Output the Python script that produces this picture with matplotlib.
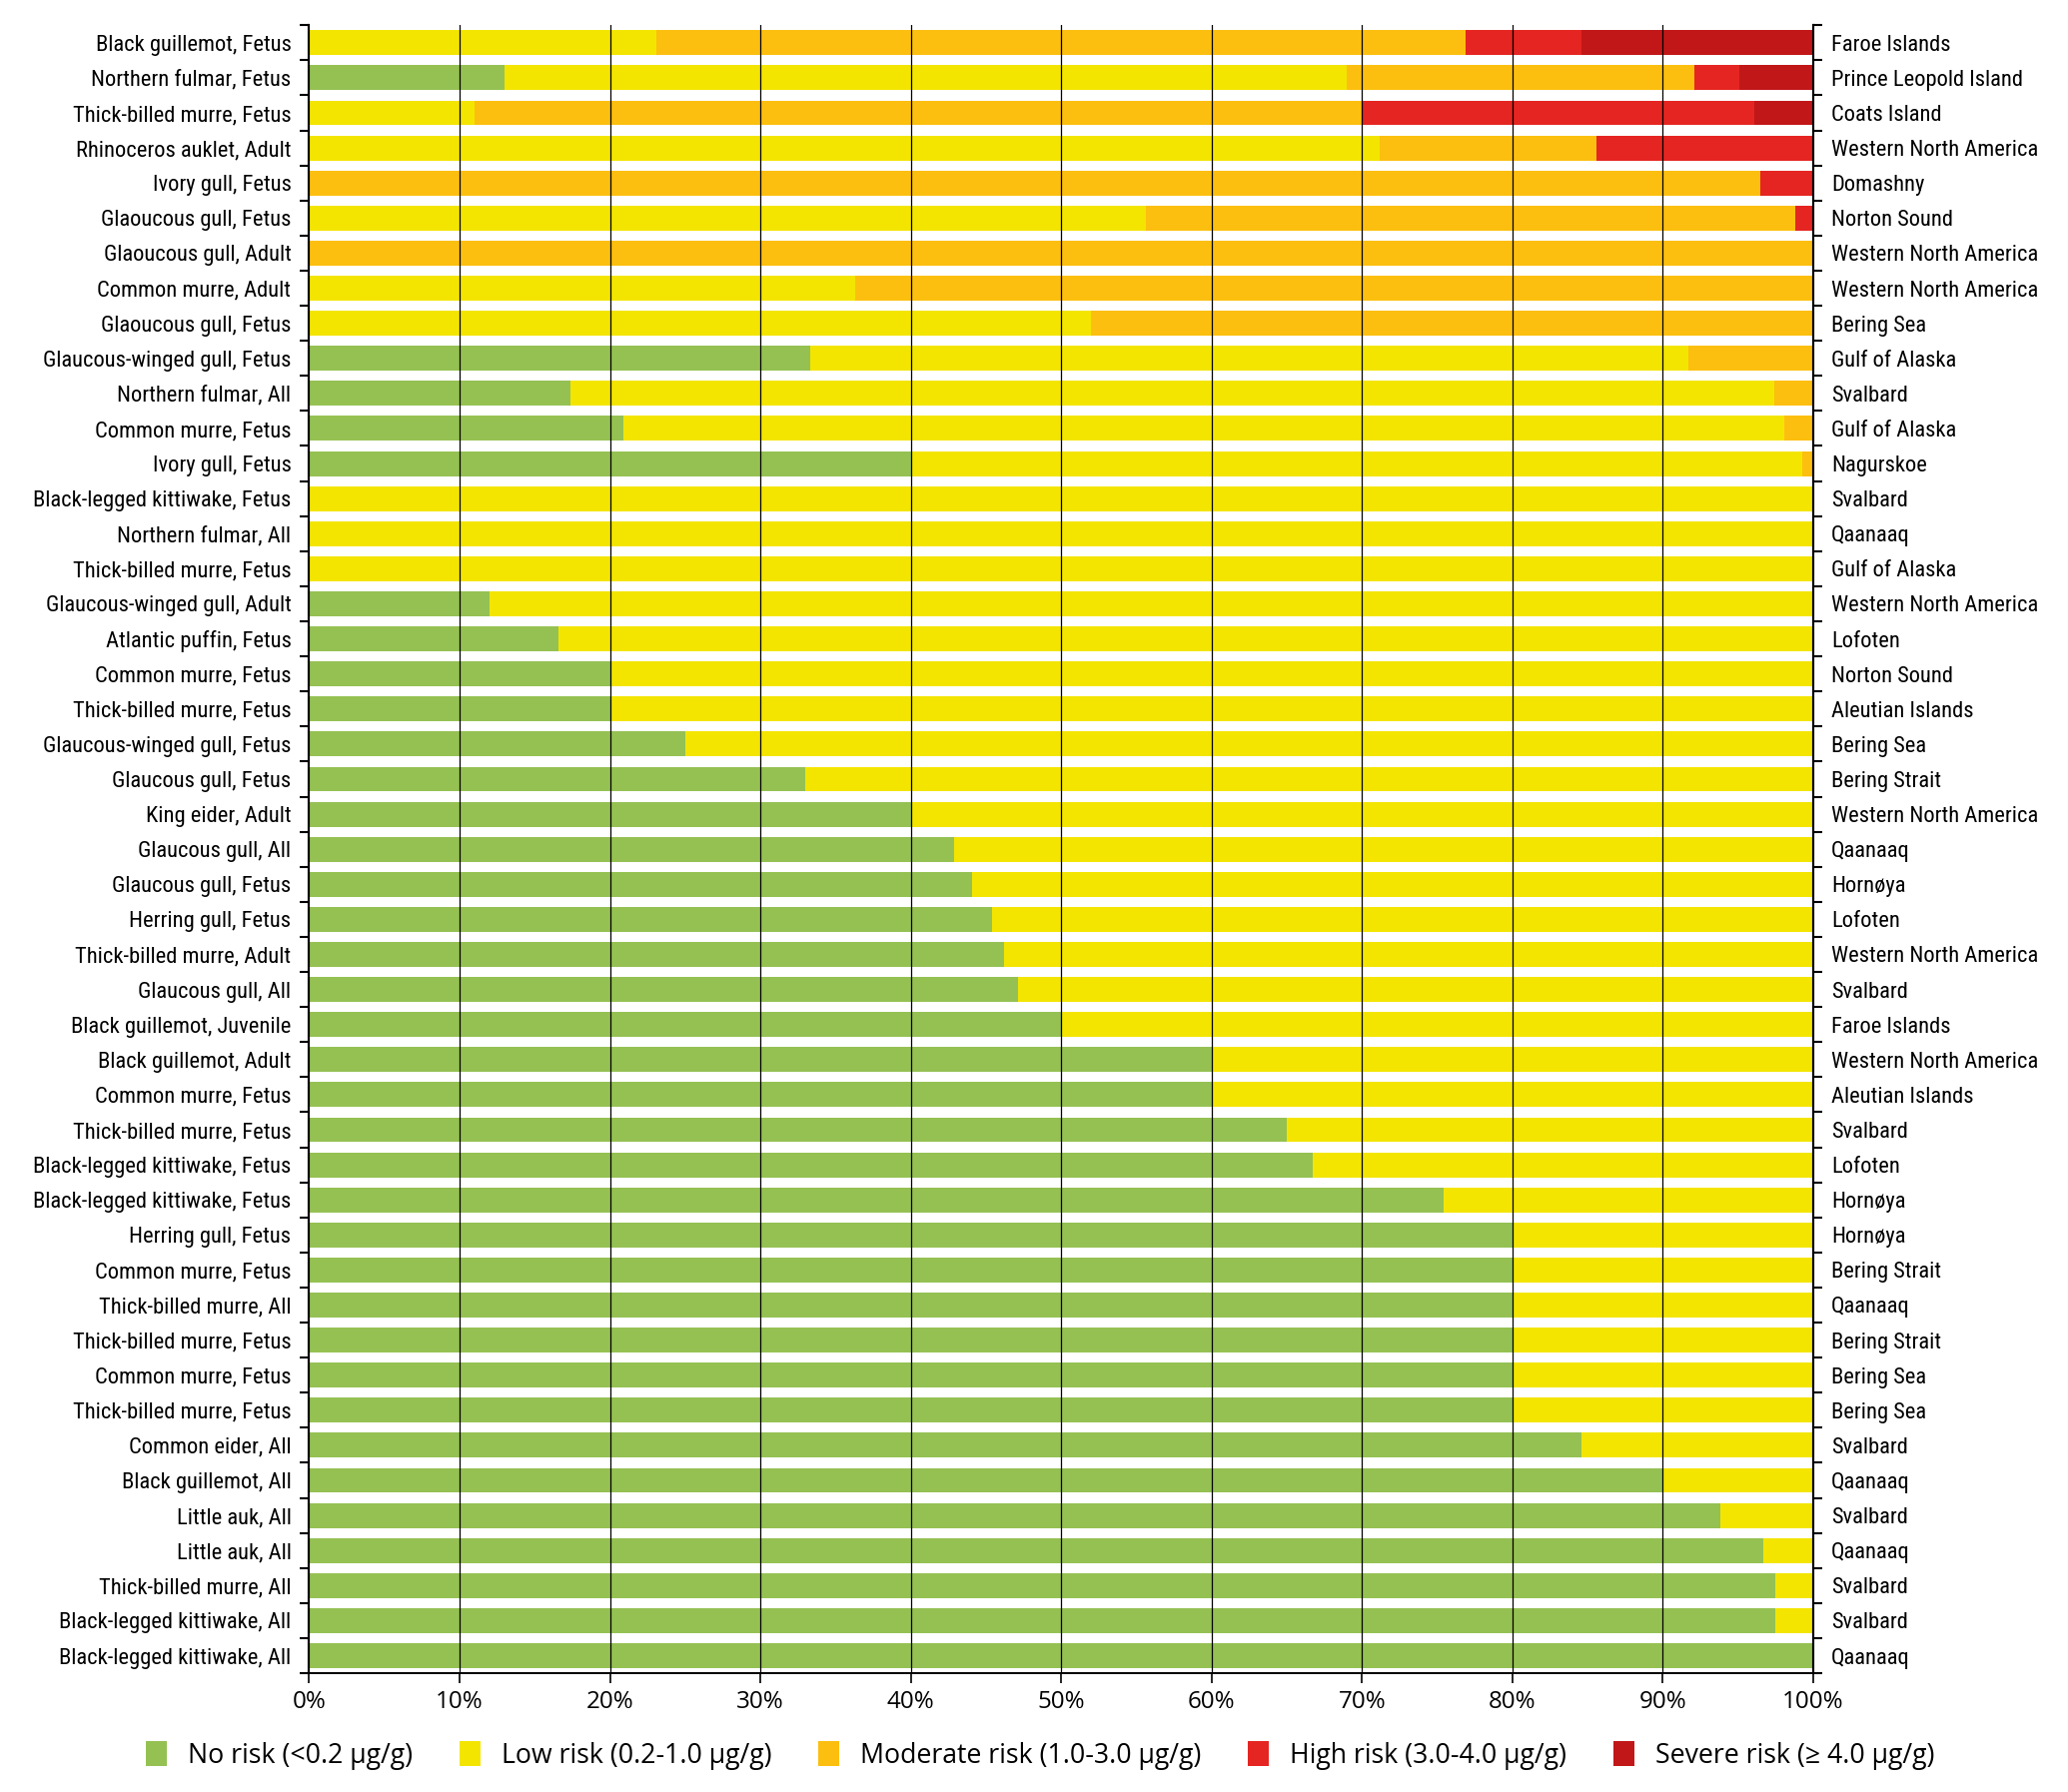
import matplotlib.pyplot as plt
import matplotlib.font_manager as fm
import numpy as np
from matplotlib.patches import Patch

species = [
    "Black guillemot, Fetus", "Northern fulmar, Fetus", "Thick-billed murre, Fetus",
    "Rhinoceros auklet, Adult", "Ivory gull, Fetus", "Glaoucous gull, Fetus",
    "Glaoucous gull, Adult", "Common murre, Adult", "Glaoucous gull, Fetus",
    "Glaucous-winged gull, Fetus", "Northern fulmar, All", "Common murre, Fetus",
    "Ivory gull, Fetus", "Black-legged kittiwake, Fetus", "Northern fulmar, All",
    "Thick-billed murre, Fetus", "Glaucous-winged gull, Adult", "Atlantic puffin, Fetus",
    "Common murre, Fetus", "Thick-billed murre, Fetus", "Glaucous-winged gull, Fetus",
    "Glaucous gull, Fetus", "King eider, Adult", "Glaucous gull, All",
    "Glaucous gull, Fetus", "Herring gull, Fetus", "Thick-billed murre, Adult",
    "Glaucous gull, All", "Black guillemot, Juvenile", "Black guillemot, Adult",
    "Common murre, Fetus", "Thick-billed murre, Fetus", "Black-legged kittiwake, Fetus",
    "Black-legged kittiwake, Fetus", "Herring gull, Fetus", "Common murre, Fetus",
    "Thick-billed murre, All", "Thick-billed murre, Fetus", "Common murre, Fetus",
    "Thick-billed murre, Fetus", "Common eider, All", "Black guillemot, All",
    "Little auk, All", "Little auk, All", "Thick-billed murre, All",
    "Black-legged kittiwake, All", "Black-legged kittiwake, All",
]

locations = [
    "Faroe Islands", "Prince Leopold Island", "Coats Island", "Western North America",
    "Domashny", "Norton Sound", "Western North America", "Western North America",
    "Bering Sea", "Gulf of Alaska", "Svalbard", "Gulf of Alaska", "Nagurskoe",
    "Svalbard", "Qaanaaq", "Gulf of Alaska", "Western North America", "Lofoten",
    "Norton Sound", "Aleutian Islands", "Bering Sea", "Bering Strait",
    "Western North America", "Qaanaaq", "Hornøya", "Lofoten", "Western North America",
    "Svalbard", "Faroe Islands", "Western North America", "Aleutian Islands",
    "Svalbard", "Lofoten", "Hornøya", "Hornøya", "Bering Strait", "Qaanaaq",
    "Bering Strait", "Bering Sea", "Bering Sea", "Svalbard", "Qaanaaq", "Svalbard",
    "Qaanaaq", "Svalbard", "Svalbard", "Qaanaaq",
]

# percentages per risk class
no_risk = [
    0, 13.0, 0, 0, 0, 0, 0, 0, 0, 33.3, 17.4, 20.9, 40.0, 0, 0, 0, 12.0, 16.6,
    20.0, 20.0, 25.0, 33.0, 40.0, 42.9, 44.1, 45.4, 46.2, 47.1, 50.0, 60.0, 60.0,
    65.0, 66.7, 75.4, 80.0, 80.0, 80.0, 80.0, 80.0, 80.0, 84.6, 90.0, 93.8, 96.7,
    97.5, 97.5, 100.0,
]
low_risk = [
    23.1, 56.0, 11.0, 71.2, 0, 55.6, 0, 36.3, 52.0, 58.4, 80.0, 77.2, 59.3, 100.0,
    100.0, 100.0, 88.0, 83.4, 80.0, 80.0, 75.0, 67.0, 60.0, 57.1, 55.9, 54.6, 53.8,
    52.9, 50.0, 40.0, 40.0, 35.0, 33.3, 24.6, 20.0, 20.0, 20.0, 20.0, 20.0, 20.0,
    15.4, 10.0, 6.2, 3.3, 2.5, 2.5, 0,
]
moderate_risk = [
    53.8, 23.1, 59.0, 14.4, 96.5, 43.2, 100.0, 63.7, 48.0, 8.3, 2.6, 1.9, 0.7,
] + [0] * 34
high_risk = [7.7, 3.0, 26.1, 14.4, 3.5, 1.2] + [0] * 41
severe_risk = [15.4, 4.9, 3.9] + [0] * 44

classes = [
    "No risk (<0.2 µg/g)", "Low risk (0.2-1.0 µg/g)", "Moderate risk (1.0-3.0 µg/g)",
    "High risk (3.0-4.0 µg/g)", "Severe risk (≥ 4.0 µg/g)",
]
colors = ["#95c153", "#f3e500", "#fcbf0f", "#e52521", "#c11718"]


def pick_font(prefs, want_narrow):
    entries = [
        f for f in fm.fontManager.ttflist
        if f.style == "normal" and f.weight in (400, "normal", "regular", "book")
    ]
    for name in prefs:
        for f in entries:
            if f.name == name:
                return f.fname
    if want_narrow:
        for f in entries:
            low = (f.name + " " + f.fname).lower()
            if "narrow" in low or "condensed" in low or f.stretch in ("condensed", "semi-condensed"):
                return f.fname
    return fm.findfont(fm.FontProperties(family="Roboto"))


narrow_file = pick_font(
    ["Liberation Sans Narrow", "Roboto Condensed", "Open Sans Condensed",
     "Noto Sans Condensed", "DejaVu Sans Condensed"], True)
regular_file = pick_font(["Open Sans", "Noto Sans", "Liberation Sans"], False)

fig = plt.figure(figsize=(20.7, 17.94), dpi=100)
renderer = fig.canvas.get_renderer()


def fit_size(fname, text, target_px, lo, hi):
    t = fig.text(0, 0, text, fontproperties=fm.FontProperties(fname=fname, size=10))
    w = t.get_window_extent(renderer).width
    t.remove()
    return float(np.clip(10 * target_px / w, lo, hi))


label_size = fit_size(narrow_file, "Black-legged kittiwake, Fetus", 256, 11, 17.5)
legend_size = fit_size(regular_file, "No risk (<0.2 µg/g)", 225, 12, 21)
tick_size = fit_size(regular_file, "10%", 48, 12, 20)
label_font = fm.FontProperties(fname=narrow_file, size=label_size)
tick_font = fm.FontProperties(fname=regular_file, size=tick_size)
legend_font = fm.FontProperties(fname=regular_file, size=legend_size)

n = len(species)
y = np.arange(n)

ax = fig.add_axes([0.1495, 0.0663, 0.8768 - 0.1495, 0.92])

left = np.zeros(n)
for vals, c in zip([no_risk, low_risk, moderate_risk, high_risk, severe_risk], colors):
    vals = np.array(vals, float)
    ax.barh(y, vals, left=left, height=0.71, color=c, edgecolor="none", zorder=1)
    left += vals

for xv in range(10, 100, 10):
    ax.axvline(xv, color="k", linewidth=0.9, zorder=3)

ax.set_xlim(0, 100)
ax.set_ylim(n - 0.52, -0.52)

ax.set_xticks(np.arange(0, 101, 10))
ax.set_xticklabels([f"{v}%" for v in range(0, 101, 10)], fontproperties=tick_font)
ax.tick_params(axis="x", direction="out", length=7, width=1.2, pad=5)

ax.set_yticks(y)
ax.set_yticklabels(species, fontproperties=label_font)
ax.set_yticks(np.arange(-0.5, n, 1), minor=True)
ax.tick_params(axis="y", which="major", length=0, pad=13)
ax.tick_params(axis="y", which="minor", length=6.5, width=1.5, direction="out")

ax2 = ax.twinx()
ax2.set_ylim(ax.get_ylim())
ax2.set_yticks(y)
ax2.set_yticklabels(locations, fontproperties=label_font)
ax2.set_yticks(np.arange(-0.5, n, 1), minor=True)
ax2.tick_params(axis="y", which="major", length=0, pad=13)
ax2.tick_params(axis="y", which="minor", length=6.5, width=1.5, direction="out")

for a in (ax, ax2):
    a.spines["top"].set_visible(False)
    a.spines["left"].set_linewidth(1.5)
    a.spines["right"].set_linewidth(1.5)
    a.spines["bottom"].set_linewidth(1.3)

px = legend_size * 100 / 72
handles = [Patch(facecolor=c, edgecolor="none", label=l) for c, l in zip(colors, classes)]
fig.legend(
    handles=handles,
    loc="center",
    bbox_to_anchor=(0.503, 0.0205),
    ncol=5,
    frameon=False,
    prop=legend_font,
    handlelength=21 / px,
    handleheight=29 / px,
    handletextpad=21 / px,
    columnspacing=47 / px,
    borderpad=0,
)

plt.savefig("out.png", dpi=100)
